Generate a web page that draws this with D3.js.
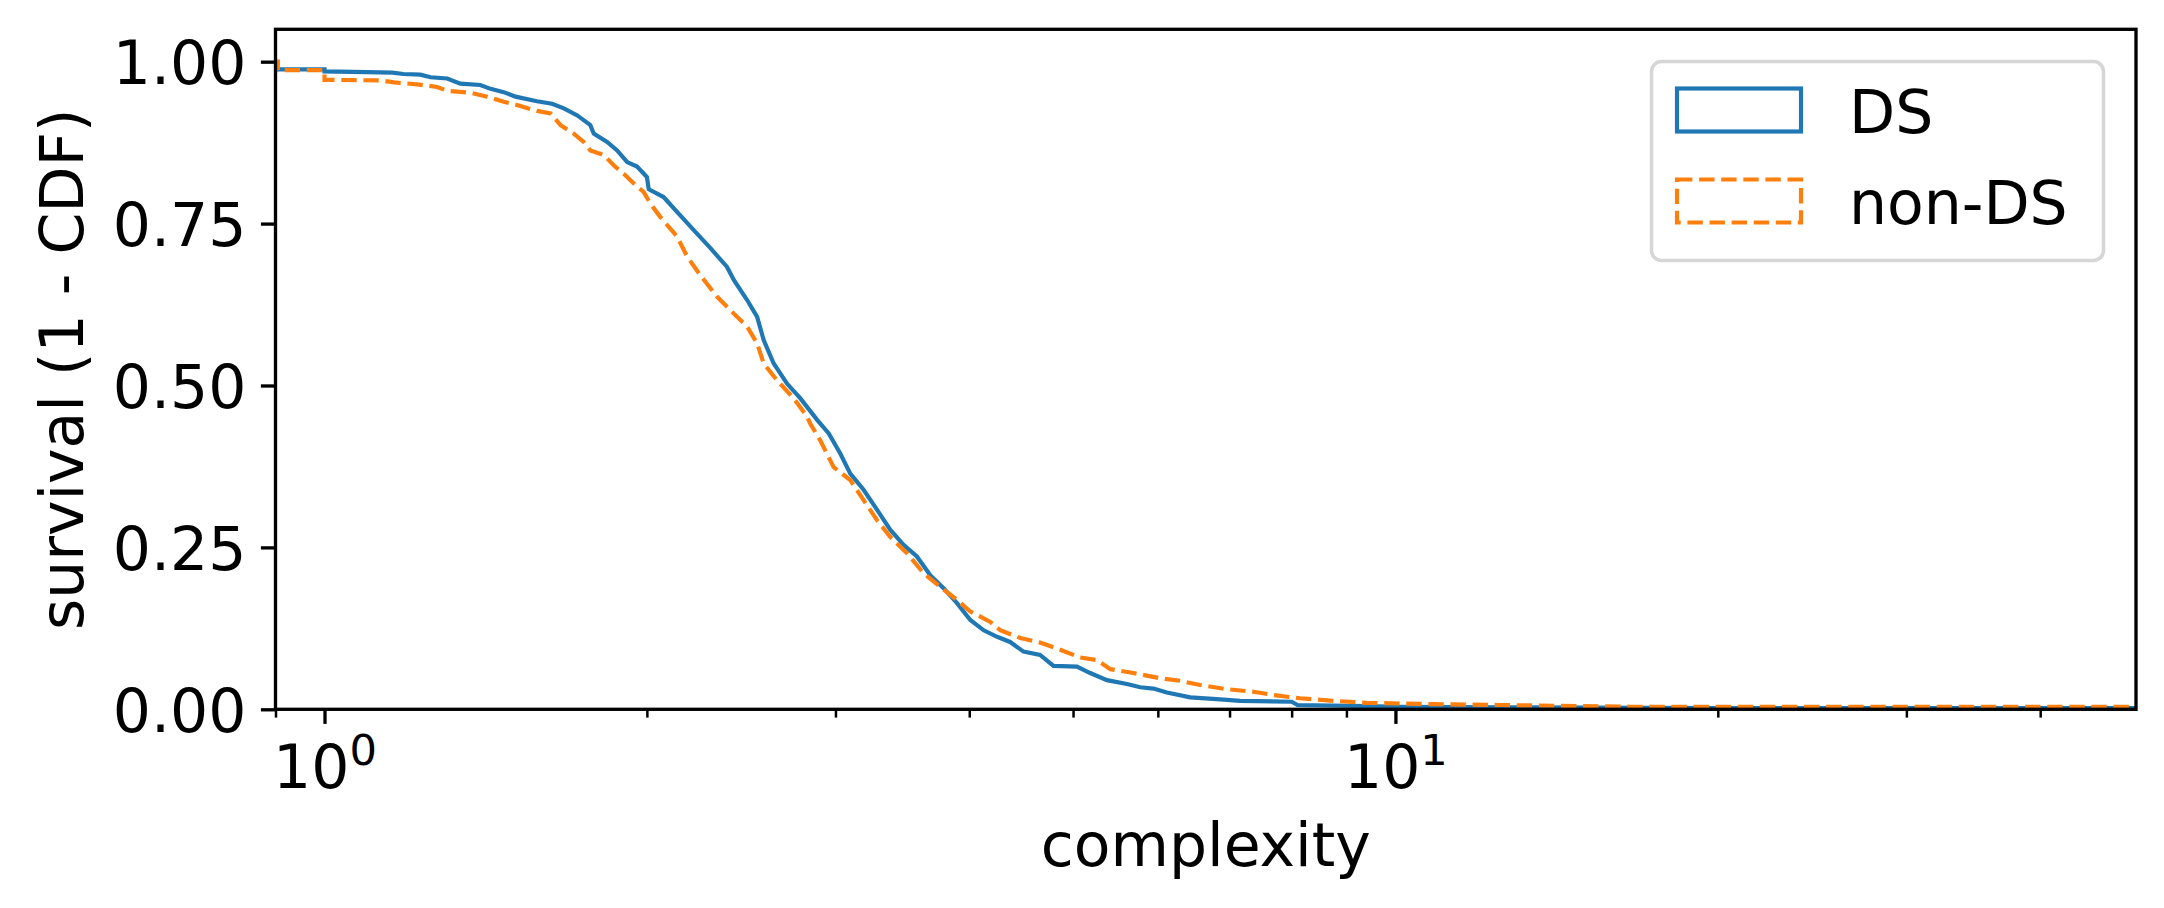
<!DOCTYPE html>
<html>
<head>
<meta charset="utf-8">
<script src="https://cdn.jsdelivr.net/npm/d3@7"></script>
<style>
  html, body { margin: 0; padding: 0; background: #fff; }
  svg { display: block; }
  text { font-family: "DejaVu Sans", sans-serif; fill: #000; }
</style>
</head>
<body>
<svg id="chart" width="2164" height="908"></svg>
<script>
// ---- data ----
const seriesNames = ["DS", "non-DS"];
const dsComplexity = [0.85, 1.0, 1.0, 1.096, 1.157, 1.185, 1.229, 1.256, 1.302, 1.339, 1.398, 1.429, 1.470, 1.508, 1.579, 1.631, 1.673, 1.722, 1.771, 1.784, 1.836, 1.876, 1.917, 1.958, 2.0, 2.008, 2.073, 2.134, 2.212, 2.293, 2.376, 2.411, 2.481, 2.535, 2.571, 2.627, 2.703, 2.782, 2.884, 2.957, 3.031, 3.097, 3.187, 3.281, 3.376, 3.473, 3.574, 3.678, 3.785, 3.896, 4.009, 4.126, 4.247, 4.367, 4.495, 4.658, 4.794, 5.042, 5.188, 5.378, 5.615, 5.777, 5.944, 6.117, 6.433, 6.862, 7.161, 8.0, 8.1, 9.404, 10.1, 12.52, 20, 60];
const dsSurvival   = [0.988, 0.988, 0.985, 0.984, 0.983, 0.981, 0.980, 0.976, 0.974, 0.966, 0.964, 0.958, 0.953, 0.946, 0.939, 0.935, 0.928, 0.917, 0.902, 0.889, 0.876, 0.863, 0.845, 0.838, 0.822, 0.803, 0.791, 0.768, 0.740, 0.712, 0.683, 0.663, 0.632, 0.606, 0.570, 0.534, 0.503, 0.480, 0.447, 0.426, 0.395, 0.364, 0.339, 0.308, 0.277, 0.254, 0.236, 0.207, 0.187, 0.164, 0.138, 0.122, 0.112, 0.104, 0.089, 0.084, 0.067, 0.066, 0.056, 0.045, 0.039, 0.034, 0.032, 0.026, 0.0185, 0.0154, 0.013, 0.0117, 0.0066, 0.005, 0.004, 0.003, 0.002, 0.002];
const nonComplexity = [0.85, 0.9046, 0.9046, 1.0, 1.0, 1.128, 1.161, 1.220, 1.274, 1.302, 1.369, 1.419, 1.470, 1.513, 1.579, 1.626, 1.661, 1.709, 1.746, 1.771, 1.823, 1.862, 1.903, 1.958, 1.986, 2.015, 2.059, 2.134, 2.181, 2.244, 2.326, 2.411, 2.481, 2.535, 2.571, 2.646, 2.743, 2.822, 2.842, 2.904, 2.988, 3.097, 3.187, 3.281, 3.376, 3.499, 3.626, 3.758, 3.896, 4.009, 4.185, 4.276, 4.464, 4.658, 4.864, 5.078, 5.264, 5.417, 5.693, 6.030, 6.295, 6.572, 6.961, 7.371, 7.694, 8.147, 8.752, 9.404, 10.85, 12.52, 16.56, 60];
const nonSurvival   = [1.0, 1.0, 0.987, 0.987, 0.972, 0.971, 0.968, 0.965, 0.961, 0.955, 0.952, 0.946, 0.938, 0.933, 0.924, 0.920, 0.902, 0.889, 0.876, 0.863, 0.856, 0.840, 0.827, 0.807, 0.799, 0.781, 0.760, 0.730, 0.699, 0.670, 0.637, 0.611, 0.591, 0.565, 0.534, 0.508, 0.480, 0.452, 0.441, 0.415, 0.374, 0.354, 0.323, 0.292, 0.266, 0.241, 0.210, 0.189, 0.169, 0.151, 0.135, 0.122, 0.110, 0.103, 0.092, 0.080, 0.076, 0.062, 0.056, 0.048, 0.044, 0.0375, 0.031, 0.027, 0.022, 0.017, 0.013, 0.010, 0.008, 0.0066, 0.004, 0.004];
const yTickValues = [0, 0.25, 0.5, 0.75, 1.0];
const yTickLabels = ["0.00", "0.25", "0.50", "0.75", "1.00"];
const xMajorTicks = [1, 10];
const xMajorExponents = ["0", "1"];
const xMinorTicks = [0.9, 2, 3, 4, 5, 6, 7, 8, 9, 20, 30, 40];
const xDomain = [0.9, 49.15];
const yDomain = [0, 1.05];

// ---- layout ----
const svg = d3.select("#chart");
const L = 275.5, R = 2136, T = 29.3, B = 709.3;
const FS = 60;
const blue = "#1f77b4", orange = "#ff7f0e";
const lw = 4.17;
const dash = "15.4,6.7";

const x = d3.scaleLog().domain(xDomain).range([L, R]);
const y = d3.scaleLinear().domain(yDomain).range([B, T]);

svg.append("defs").append("clipPath").attr("id", "clip")
  .append("rect").attr("x", L).attr("y", T).attr("width", R - L).attr("height", B - T);

const line = d3.line().x(d => x(d[0])).y(d => y(d[1])).curve(d3.curveLinear);
const dsData = dsComplexity.map((c, i) => [c, dsSurvival[i]]);
const nonData = nonComplexity.map((c, i) => [c, nonSurvival[i]]);

const g = svg.append("g").attr("clip-path", "url(#clip)");
g.append("path").datum(dsData).attr("d", line)
  .attr("fill", "none").attr("stroke", blue).attr("stroke-width", lw)
  .attr("stroke-linejoin", "miter").attr("stroke-linecap", "butt");
g.append("path").datum(nonData).attr("d", line)
  .attr("fill", "none").attr("stroke", orange).attr("stroke-width", lw)
  .attr("stroke-dasharray", dash)
  .attr("stroke-linejoin", "miter").attr("stroke-linecap", "butt");

// ---- axes ----
const yAxis = d3.axisLeft(y).tickValues(yTickValues).tickSize(14.6).tickPadding(14.6)
  .tickFormat((d, i) => yTickLabels[i]);
const gy = svg.append("g").attr("transform", `translate(${L},0)`).call(yAxis);
gy.select(".domain").remove();
gy.selectAll(".tick line").attr("stroke", "#000").attr("stroke-width", 3.33);
gy.selectAll(".tick text").attr("font-size", FS).attr("font-family", "DejaVu Sans")
  .attr("dy", null).attr("y", 0).attr("dominant-baseline", "auto")
  .attr("transform", "translate(0,22)");

// x minor ticks
const gxMinor = svg.append("g").attr("transform", `translate(0,${B})`)
  .call(d3.axisBottom(x).tickValues(xMinorTicks).tickSize(8.3).tickFormat(""));
gxMinor.select(".domain").remove();
gxMinor.selectAll(".tick line").attr("stroke", "#000").attr("stroke-width", 2.5);

// x major ticks
const gx = svg.append("g").attr("transform", `translate(0,${B})`)
  .call(d3.axisBottom(x).tickValues(xMajorTicks).tickSize(14.6).tickFormat(""));
gx.select(".domain").remove();
gx.selectAll(".tick line").attr("stroke", "#000").attr("stroke-width", 3.33);
gx.selectAll(".tick").each(function(d, i) {
  const t = d3.select(this).append("text")
    .attr("x", 0).attr("y", 788 - B)
    .attr("text-anchor", "middle").attr("font-size", FS).attr("fill", "#000");
  t.append("tspan").text("10");
  t.append("tspan").attr("font-size", FS * 0.72).attr("dy", -23).text(xMajorExponents[i]);
});

// spines
svg.append("rect").attr("x", L).attr("y", T).attr("width", R - L).attr("height", B - T)
  .attr("fill", "none").attr("stroke", "#000").attr("stroke-width", 3.33)
  .attr("stroke-linejoin", "miter");

// axis labels
svg.append("text").attr("x", (L + R) / 2).attr("y", 866).attr("text-anchor", "middle")
  .attr("font-size", FS).text("complexity");
svg.append("text").attr("transform", `translate(83,${(T + B) / 2}) rotate(-90)`)
  .attr("text-anchor", "middle").attr("font-size", FS).text("survival (1 - CDF)");

// ---- legend ----
const leg = svg.append("g");
leg.append("rect").attr("x", 1651.5).attr("y", 61.5).attr("width", 452).attr("height", 199)
  .attr("rx", 10).attr("ry", 10)
  .attr("fill", "#fff").attr("fill-opacity", 0.8)
  .attr("stroke", "#cccccc").attr("stroke-opacity", 0.8).attr("stroke-width", 3.5);
const legendColors = [blue, orange];
const legendDash = [null, dash];
const legendY = [88.5, 179.5];
seriesNames.forEach((name, i) => {
  leg.append("rect").attr("x", 1677).attr("y", legendY[i]).attr("width", 124).attr("height", 43)
    .attr("fill", "none").attr("stroke", legendColors[i]).attr("stroke-width", lw)
    .attr("stroke-dasharray", legendDash[i]);
  leg.append("text").attr("x", 1849).attr("y", legendY[i] + 44)
    .attr("font-size", FS).text(name);
});
</script>
</body>
</html>
